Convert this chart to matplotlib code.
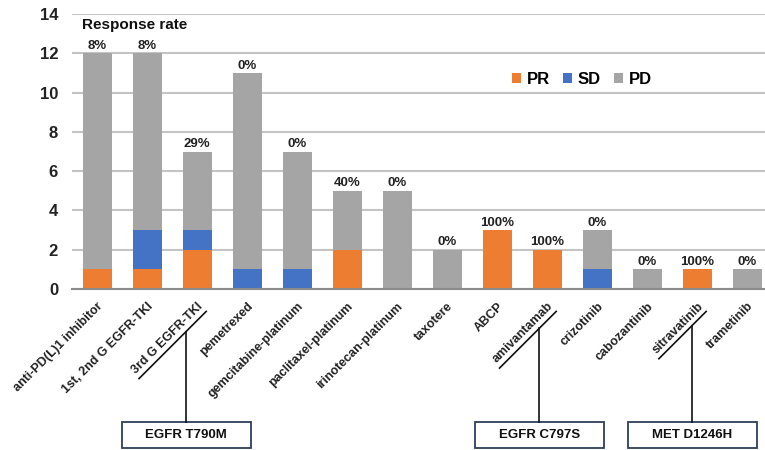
import matplotlib
matplotlib.use("Agg")
import matplotlib.pyplot as plt
from matplotlib.patches import Rectangle
from matplotlib.lines import Line2D
import numpy as np

plt.rcParams['font.family'] = ['Liberation Sans', 'DejaVu Sans']
plt.rcParams['font.weight'] = 'bold'

categories = ["anti-PD(L)1 inhibitor", "1st, 2nd G EGFR-TKI", "3rd G EGFR-TKI",
              "pemetrexed", "gemcitabine-platinum", "paclitaxel-platinum",
              "irinotecan-platinum", "taxotere", "ABCP", "amivantamab",
              "crizotinib", "cabozantinib", "sitravatinib", "trametinib"]
pr = [1, 1, 2, 0, 0, 2, 0, 0, 3, 2, 0, 0, 1, 0]
sd = [0, 2, 1, 1, 1, 0, 0, 0, 0, 0, 1, 0, 0, 0]
pd = [11, 9, 4, 10, 6, 3, 5, 2, 0, 0, 2, 1, 0, 1]
response_rate = ["8%", "8%", "29%", "0%", "0%", "40%", "0%", "0%",
                 "100%", "100%", "0%", "0%", "100%", "0%"]
yticks = [0, 2, 4, 6, 8, 10, 12, 14]

# mutation call-outs: which category label they hang from, and the box text
callouts = [("3rd G EGFR-TKI", "EGFR T790M"),
            ("amivantamab", "EGFR C797S"),
            ("sitravatinib", "MET D1246H")]

c_pr, c_sd, c_pd = "#ED7D31", "#4472C4", "#A5A5A5"

W, H = 765, 450
fig = plt.figure(figsize=(W / 100, H / 100), dpi=100)
ax = fig.add_axes([72 / W, 161 / H, (765 - 72) / W, 275 / H])

x = np.arange(len(categories))
pr_a, sd_a, pd_a = map(np.array, (pr, sd, pd))
bw = 0.58
ax.bar(x, pr_a, bw, color=c_pr, label="PR", zorder=3)
ax.bar(x, sd_a, bw, bottom=pr_a, color=c_sd, label="SD", zorder=3)
ax.bar(x, pd_a, bw, bottom=pr_a + sd_a, color=c_pd, label="PD", zorder=3)

totals = pr_a + sd_a + pd_a
for xi, t, lab in zip(x, totals, response_rate):
    ax.annotate(lab, (xi, t), xytext=(0, 1), textcoords="offset points",
                ha="center", va="bottom", fontsize=9.5, fontweight="bold",
                color="#222222")

ax.set_xlim(-0.5, -0.5 + (765 - 72) / 50)
ax.set_ylim(0, 14)
ax.set_yticks(yticks)
ax.set_yticklabels([str(v) for v in yticks], fontsize=12, fontweight="bold")
ax.set_xticks(x)
ax.set_xticklabels(categories, rotation=45, ha="right", rotation_mode="anchor",
                   fontsize=9, fontweight="bold")
ax.tick_params(axis="both", length=0, colors="#222222")
ax.tick_params(axis="y", pad=10)
ax.tick_params(axis="x", pad=8)
ax.grid(axis="y", color="#C4C4C4", linewidth=1.5, zorder=0)
for s in ("top", "right", "left"):
    ax.spines[s].set_visible(False)
ax.spines["bottom"].set_color("#8C8C8C")
ax.spines["bottom"].set_linewidth(1.5)
ax.spines["bottom"].set_zorder(4)

ax.text(82 / W, 1 - 25 / H, "Response rate", transform=fig.transFigure,
        fontsize=11, fontweight="bold", ha="left", va="center", color="#111111")

leg = ax.legend(loc="center", bbox_to_anchor=((582 - 72) / (765 - 72), (289 - 79) / 275),
                ncol=3, frameon=False, handlelength=0.55,
                handleheight=0.55, handletextpad=0.35, columnspacing=0.75,
                prop={"weight": "bold", "size": 12})

# underline the targeted-therapy labels and hang a mutation box under each
fig.canvas.draw()
renderer = fig.canvas.get_renderer()
labels = {t.get_text(): t for t in ax.get_xticklabels()}
inv = fig.transFigure.inverted()
box_w, box_h, box_top = 129, 26, 422
cs = np.sqrt(0.5)
for cat, mut in callouts:
    t = labels[cat]
    bb = t.get_window_extent(renderer)
    h = t.get_fontsize() * fig.dpi / 72 * 0.72
    off = 4
    p0 = np.array([bb.x0 + h * cs + off * cs, bb.y0 - off * cs])
    p1 = np.array([bb.x1 + off * cs - 3 * cs, bb.y1 - h * cs - off * cs - 3 * cs])
    f0, f1 = inv.transform(p0), inv.transform(p1)
    fig.add_artist(Line2D([f0[0], f1[0]], [f0[1], f1[1]], color="#111111",
                          lw=1.2, transform=fig.transFigure))
    hang = p0 + 0.7 * (p1 - p0)
    mx = hang[0]
    fig.add_artist(Line2D([mx / W, mx / W], [hang[1] / H, 1 - box_top / H],
                          color="#111111", lw=1.2, transform=fig.transFigure))
    fig.add_artist(Rectangle(((mx - box_w / 2) / W, 1 - (box_top + box_h) / H),
                             box_w / W, box_h / H, transform=fig.transFigure,
                             facecolor="white", edgecolor="#2F3E5C", lw=1.3))
    fig.text(mx / W, 1 - (box_top + box_h / 2) / H, mut, ha="center", va="center",
             fontsize=9.5, fontweight="bold", color="#111111")

fig.savefig("out.png", dpi=100)
